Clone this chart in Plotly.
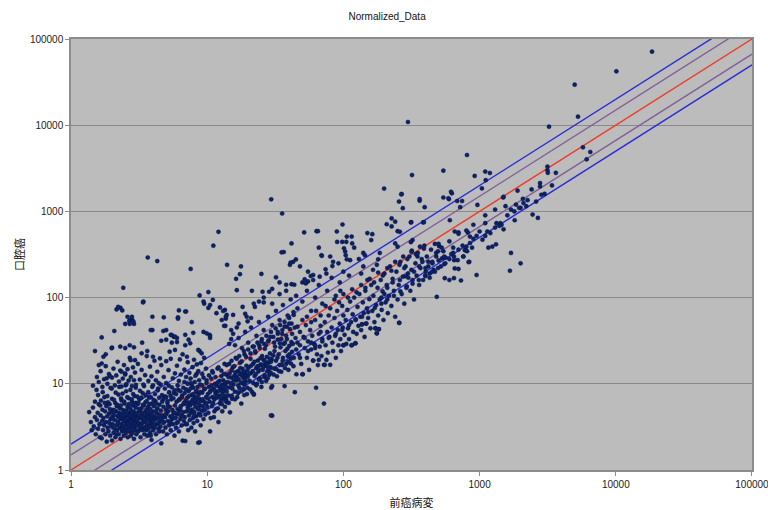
import plotly.graph_objects as go

# ---------------- data ----------------
title_text = "Normalized_Data"
x_title = "前癌病変"
y_title = "口腔癌"
tick_vals = [1, 10, 100, 1000, 10000, 100000]
tick_text = ["1", "10", "100", "1000", "10000", "100000"]

# reference lines y = k * x
line_factors = [2.0, 1.5, 1.0, 1 / 1.5, 0.5]
line_colors = ["#2b2bd6", "#80609a", "#ee3b2b", "#80609a", "#2b2bd6"]
line_x = [1, 100000]

# dense core (x 1.4 - 10)
pts_core = [
    (1.36,4.7),(1.4,3.6),(1.42,2.9),(1.45,5.3),(1.47,3.2),(1.5,4.1),(1.52,2.6),(1.54,8.5),(1.55,3.8),(1.57,4.6),
    (1.58,3.0),(1.6,5.8),(1.62,3.4),(1.63,2.4),(1.65,4.3),(1.66,6.4),(1.68,2.33),(1.69,3.7),(1.7,5.0),(1.72,2.9),
    (1.73,4.0),(1.75,3.3),(1.76,7.0),(1.78,4.8),(1.79,2.6),(1.8,3.6),(1.82,5.5),(1.83,2.13),(1.84,4.2),(1.86,3.1),
    (1.87,6.1),(1.88,2.8),(1.9,4.5),(1.91,3.5),(1.93,5.1),(1.94,2.5),(1.95,3.9),(1.97,4.7),(1.98,3.2),(2.0,2.2),
    (2.0,6.7),(2.0,4.1),
    (2.02,3.4),(2.04,5.0),(2.05,2.7),(2.06,4.4),(2.08,3.0),(2.1,3.8),(2.11,6.0),(2.12,2.4),(2.14,4.8),(2.15,3.3),
    (2.17,5.5),(2.18,2.9),(2.2,4.2),(2.21,3.6),(2.23,7.5),(2.24,2.6),(2.25,4.6),(2.27,3.1),(2.28,5.2),(2.3,3.9),
    (2.31,2.3),(2.33,4.4),(2.34,3.4),(2.35,6.4),(2.37,2.8),(2.38,4.0),(2.4,5.0),(2.41,3.2),(2.43,3.7),(2.44,2.5),
    (2.45,4.7),(2.47,5.9),(2.48,3.0),(2.5,4.2),(2.51,3.5),(2.53,2.7),(2.54,8.2),(2.55,4.9),(2.57,3.8),(2.58,3.3),
    (2.6,5.4),(2.61,2.4),(2.63,4.3),(2.64,3.0),(2.65,6.8),(2.67,3.6),(2.68,4.6),(2.7,2.8),(2.71,4.0),(2.73,5.1),
    (2.74,3.3),(2.75,2.5),(2.77,4.5),(2.78,3.8),(2.8,6.2),(2.81,3.1),(2.83,4.2),(2.84,2.7),(2.85,5.6),(2.87,3.5),
    (2.88,4.8),(2.9,2.3),(2.91,3.9),(2.93,7.2),(2.94,3.2),(2.95,4.4),(2.97,2.9),(2.98,5.3),(3.0,3.7),(3.0,4.1),
    (2.03,3.9),(2.09,4.9),(2.16,2.6),(2.22,3.5),(2.26,4.0),(2.32,5.6),(2.36,3.0),(2.42,4.3),(2.46,2.9),(2.52,3.9),
    (2.56,4.4),(2.62,3.4),(2.66,2.9),(2.72,4.3),(2.76,3.6),(2.82,4.6),(2.86,3.0),(2.92,4.0),(2.96,3.4),(2.99,6.0),
    (3.02,2.6),(3.04,4.6),(3.06,3.3),(3.08,5.8),(3.1,3.9),(3.12,2.8),(3.14,4.3),(3.16,3.5),(3.18,6.6),(3.2,3.0),
    (3.22,4.8),(3.24,2.4),(3.26,4.0),(3.28,5.2),(3.3,3.4),(3.32,4.5),(3.34,2.9),(3.36,7.8),(3.38,3.7),(3.4,4.2),
    (3.42,5.6),(3.44,3.1),(3.46,2.6),(3.48,4.7),(3.5,3.6),(3.52,6.1),(3.54,4.1),(3.56,2.9),(3.58,5.0),(3.6,3.3),
    (3.62,4.4),(3.64,2.5),(3.66,3.9),(3.68,5.4),(3.7,3.0),(3.72,4.6),(3.74,6.9),(3.76,3.5),(3.78,4.1),(3.8,2.7),
    (3.82,5.1),(3.84,3.8),(3.86,4.4),(3.88,3.2),(3.9,2.23),(3.92,5.9),(3.94,4.0),(3.96,3.5),(3.98,4.8),(4.0,2.9),
    (4.03,3.7),(4.06,5.5),(4.09,4.2),(4.12,3.1),(4.15,6.3),(4.18,3.9),(4.21,2.6),(4.24,4.6),(4.27,3.4),(4.3,5.2),
    (4.33,4.0),(4.36,8.8),(4.39,3.0),(4.42,4.4),(4.45,3.6),(4.48,5.7),
    (3.05,3.9),(3.15,5.1),(3.25,3.2),(3.35,4.1),(3.45,3.9),(3.55,3.1),(3.65,4.7),(3.75,3.2),(3.85,2.5),(3.95,4.3),
    (4.05,3.3),(4.2,4.8),(4.35,3.5),(4.45,2.8),
    (4.52,3.2),(4.56,4.9),(4.6,2.04),(4.63,3.9),(4.67,6.2),(4.7,4.3),(4.74,2.8),(4.78,5.4),(4.82,3.6),(4.86,7.1),
    (4.9,4.1),(4.94,3.1),(4.98,5.0),(5.02,4.5),(5.06,2.6),(5.1,6.0),(5.14,3.7),(5.18,4.8),(5.22,9.5),(5.26,3.3),
    (5.3,5.4),(5.35,4.2),(5.4,2.9),(5.45,6.6),(5.5,3.9),(5.55,5.0),(5.6,3.4),(5.65,4.6),(5.7,7.8),(5.75,2.5),
    (5.8,5.6),(5.85,4.0),(5.9,3.1),(5.95,6.2),(6.0,4.4),(6.05,5.1),(6.1,3.6),(6.15,8.5),(6.2,2.8),(6.25,4.9),
    (6.3,6.7),(6.35,3.9),(6.4,5.5),(6.45,4.3),(6.5,3.3),(6.55,7.3),(6.6,2.19),(6.65,4.7),(6.7,5.8),(6.75,3.7),
    (6.8,10.5),(6.85,4.1),(6.9,2.17),(6.95,6.4),
    (4.55,4.0),(4.75,3.5),(4.95,4.4),(5.15,5.5),(5.35,3.6),(5.55,4.2),(5.75,4.6),(5.95,3.5),(6.15,4.6),(6.35,5.1),
    (6.55,4.2),(6.75,6.0),(6.95,3.4),
    (7.05,4.8),(7.1,3.4),(7.15,6.9),(7.2,5.3),(7.25,2.9),(7.3,8.2),(7.35,4.3),(7.4,6.1),(7.45,3.8),(7.5,5.6),
    (7.55,11.5),(7.6,4.6),(7.65,3.1),(7.7,7.4),(7.75,5.0),(7.8,6.5),(7.85,4.0),(7.9,9.0),(7.95,3.5),(8.0,5.9),
    (8.05,4.7),(8.1,7.0),(8.15,2.8),(8.2,5.4),(8.25,6.3),(8.3,4.2),(8.35,13.0),(8.4,8.0),(8.45,3.7),(8.5,6.0),
    (8.55,5.1),(8.6,2.07),(8.65,7.5),(8.7,4.5),(8.75,6.7),(8.8,2.1),(8.85,5.6),(8.9,9.8),(8.95,3.3),(9.0,6.3),
    (9.1,4.9),(9.2,7.9),(9.3,5.5),(9.4,3.9),(9.5,8.6),(9.6,6.1),(9.7,4.4),(9.8,7.0),(9.9,11.0),(10.0,5.4),
    (7.12,5.8),(7.42,4.9),(7.72,6.0),(8.02,4.3),(8.32,6.9),(8.62,5.2),(8.92,4.3),(9.25,6.6),(9.55,5.0),(9.85,5.9),
]

# upper part of the core (y 5 - 12)
pts_core_upper = [
    (1.5,6.2),(1.58,7.4),(1.64,5.6),(1.71,8.0),(1.77,6.0),(1.85,7.2),(1.92,5.8),(1.99,8.8),(2.07,6.5),(2.13,7.9),
    (2.19,5.7),(2.26,9.2),(2.33,6.8),(2.39,7.7),(2.46,6.2),(2.52,9.6),(2.59,7.0),(2.66,5.8),(2.73,8.5),(2.79,6.6),
    (2.86,7.6),(2.92,5.9),(2.99,9.0),(3.07,7.1),(3.13,6.0),(3.21,8.3),(3.29,6.9),(3.37,5.7),(3.44,9.4),(3.52,7.4),
    (3.6,6.3),(3.69,8.0),(3.77,5.8),(3.86,7.0),(3.95,9.2),(4.04,6.5),(4.14,7.6),(4.24,5.9),(4.34,8.4),(4.44,6.9),
    (4.55,9.8),(4.66,7.4),(4.77,6.6),(4.89,8.8),(5.0,7.0),(5.12,6.3),(5.25,8.0),(5.38,7.3),(5.5,9.1),(5.64,6.8),
    (5.78,8.4),(5.92,7.6),(6.06,9.6),(6.2,6.5),(6.36,8.2),(6.52,7.0),(6.68,9.0),(6.84,7.8),(7.0,8.6),(7.18,10.0),
    (7.36,7.2),(7.54,8.8),(7.72,9.6),(7.9,7.6),(8.1,10.5),(8.3,8.3),(8.5,9.2),(8.72,11.0),(8.94,8.0),(9.16,9.6),
    (9.4,11.8),(9.64,8.8),(9.88,10.2),
]

# points just above the core (y 9 - 25)
pts_above_core = [
    (1.45,9.5),(1.55,12.0),(1.6,10.5),(1.65,14.0),(1.7,9.2),(1.75,11.3),(1.8,16.0),(1.85,10.0),(1.9,13.0),(1.95,9.0),
    (2.0,11.8),(2.05,15.0),(2.1,9.6),(2.15,12.5),(2.2,18.0),(2.25,10.6),(2.3,14.2),(2.35,9.3),(2.4,11.5),(2.45,16.5),
    (2.5,12.8),(2.55,9.9),(2.6,14.8),(2.65,10.9),(2.7,20.0),(2.75,12.0),(2.8,9.4),(2.85,15.5),(2.9,11.0),(2.95,13.5),
    (3.0,9.7),(3.1,17.0),(3.2,11.2),(3.3,14.5),(3.4,9.8),(3.5,12.6),(3.6,21.0),(3.7,10.8),(3.8,15.8),(3.9,12.2),
    (4.0,9.6),(4.1,18.5),(4.2,11.0),(4.3,13.8),(4.4,10.2),(4.6,16.5),(4.8,12.0),(5.0,10.2),(5.2,14.4),(5.4,19.5),
    (5.6,11.6),(5.8,13.2),(6.0,16.2),(6.2,10.8),(6.4,12.8),(6.6,22.0),(6.8,14.6),(7.0,12.0),(7.2,17.8),(7.4,13.4),
    (7.6,10.2),(7.8,15.6),(8.0,19.0),(8.2,12.4),(8.4,16.8),(8.6,14.0),(8.8,24.0),(9.0,17.4),(9.2,13.0),(9.5,20.0),
    (9.8,15.0),
]

# diagonal band x 10 - 45
pts_band = [
    (10.1,7.6),(10.2,4.6),(10.3,9.2),(10.4,6.2),(10.5,2.8),(10.6,8.3),(10.7,11.5),(10.8,5.5),(10.9,7.0),(11.0,13.5),
    (11.1,8.8),(11.2,4.1),(11.3,6.6),(11.4,10.0),(11.5,7.8),(11.6,5.1),(11.7,9.5),(11.8,6.9),(11.9,15.0),(12.0,8.2),
    (12.1,3.6),(12.2,7.3),(12.3,10.8),(12.4,5.9),(12.5,8.9),(12.6,6.4),(12.7,12.3),(12.8,9.7),(12.9,4.8),(13.0,7.7),
    (13.1,11.0),(13.2,6.9),(13.3,8.5),(13.4,17.0),(13.5,5.4),(13.6,9.9),(13.7,7.2),(13.8,12.8),(13.9,8.1),(14.0,6.1),
    (10.15,6.8),(10.45,8.0),(10.75,9.6),(11.05,6.0),(11.35,8.4),(11.65,7.2),(11.95,10.4),(12.25,9.3),(12.55,7.0),(12.85,8.2),
    (13.15,9.4),(13.45,10.5),(13.75,6.6),(14.05,9.0),
    (14.2,10.5),(14.4,7.3),(14.6,13.2),(14.7,4.67),(14.8,9.1),(15.0,11.8),(15.2,6.7),(15.4,15.5),(15.6,9.8),(15.8,12.4),
    (16.0,8.1),(16.2,20.0),(16.4,10.9),(16.6,7.0),(16.8,14.0),(17.0,11.3),(17.2,9.0),(17.4,17.5),(17.6,12.8),(17.8,5.9),
    (18.0,10.2),(18.2,14.9),(18.4,11.7),(18.6,8.6),(18.8,22.0),(19.0,13.3),(19.2,10.6),(19.4,16.2),(19.6,7.6),(19.8,12.0),
    (14.3,12.0),(14.9,10.2),(15.3,8.8),(15.7,11.0),(16.1,13.6),(16.5,12.2),(16.9,9.6),(17.3,13.4),(17.7,10.4),(18.1,12.6),
    (18.5,13.8),(18.9,11.2),(19.3,12.5),(19.7,14.4),(15.1,14.3),(16.3,11.6),(17.5,15.2),(18.7,9.8),
    (20.2,15.5),(20.5,10.8),(20.8,19.5),(21.1,13.4),(21.4,8.0),(21.7,17.0),(22.0,7.5),(22.3,12.3),(22.6,23.0),(22.9,15.2),
    (23.2,10.0),(23.5,18.6),(23.8,13.9),(24.1,28.0),(24.4,11.6),(24.7,16.8),(25.0,9.2),(25.3,21.0),(25.6,14.5),(25.9,19.0),
    (26.2,12.0),(26.5,25.5),(26.8,16.0),(27.1,10.8),(27.4,20.5),(27.7,14.0),(28.0,31.0),(28.3,17.7),(28.6,12.7),(28.9,22.5),
    (29.2,15.6),(29.5,9.0),(29.8,19.2),
    (20.4,13.0),(21.0,16.2),(21.6,14.0),(22.2,18.0),(22.8,13.0),(23.4,16.0),(24.0,14.8),(24.6,19.8),(25.2,16.5),(25.8,15.8),
    (26.4,18.4),(27.0,17.0),(27.6,16.6),(28.2,14.9),(28.8,19.6),(29.4,18.0),
    (30.0,4.27),(30.0,9.4),(30.5,21.5),(31.0,15.0),(31.5,27.0),(32.0,18.5),(32.5,12.2),(33.0,32.5),(33.5,22.0),(34.0,16.5),
    (34.5,26.5),(35.0,13.8),(35.5,38.0),(36.0,20.0),(36.5,29.0),(37.0,9.4),(37.5,24.0),(38.0,17.0),(38.5,33.0),(39.0,21.0),
    (39.5,14.5),(40.0,27.5),(40.5,43.0),(41.0,19.5),(41.5,30.5),(42.0,23.5),(43.0,16.0),(44.0,8.0),(44.5,34.0),(45.0,25.0),
    (31.2,24.0),(32.8,20.0),(34.2,29.5),(35.8,18.5),(37.2,30.0),(38.8,25.5),(40.2,22.0),(42.5,29.0),
    (22.0,7.6),(29.4,4.3),(63.0,9.0),(72.0,5.9),
]

# widening of the band (above and below its centre)
pts_band_extra = [
    (10.3,12.5),(10.9,14.0),(11.5,12.0),(12.1,15.5),(12.7,14.2),(13.3,13.0),(13.9,16.5),(14.5,17.0),(15.1,18.5),(15.8,16.0),
    (16.5,19.5),(17.2,21.0),(17.9,18.2),(18.6,24.0),(19.3,20.5),(20.0,25.0),(20.8,22.5),(21.6,27.0),(22.5,24.0),(23.4,30.0),
    (24.3,26.0),(25.2,33.0),(26.2,29.0),(27.2,36.0),(28.3,32.0),(29.4,40.0),(30.6,35.0),(31.8,44.0),(33.0,38.0),(34.3,48.0),
    (35.6,42.0),(37.0,52.0),(38.5,46.0),(40.0,58.0),(41.6,50.0),(43.2,63.0),
    (10.6,4.0),(11.3,4.8),(12.0,5.2),(12.8,5.8),(13.6,6.3),(14.4,6.0),(15.2,7.2),(16.0,6.6),(16.9,7.8),(17.8,8.2),
    (18.7,7.4),(19.7,9.0),(20.7,8.6),(21.8,10.2),(22.9,9.6),(24.0,11.2),(25.2,10.5),(26.5,12.5),(27.8,11.6),(29.2,13.5),
    (30.7,12.8),(32.2,14.8),(33.8,14.0),(35.5,16.5),(37.3,15.2),(39.2,18.0),(41.2,17.2),(43.3,20.0),
]

# scattered points above the band, x 1.5 - 45
pts_upper_left = [
    (2.42,130),(16.5,122),(21.3,120),(25.5,117),(8.8,106),(10.2,116),(11.0,94),(3.4,90),(9.5,85),(2.16,73),
    (2.31,76),(2.38,71),(2.6,60),(2.8,56),(2.7,55),(2.5,49.5),(2.7,49.5),(2.9,49.5),(3.96,60),(4.8,59),
    (6.1,59),(6.1,57),(6.9,69),(7.7,52),(10.2,76),(12.4,77),(13.5,72),(13.9,63),(12.8,55),(13.7,57),
    (13.6,47),(15.5,63),(19.5,60),(19.8,53),(21.0,58),(18.2,78),(22.4,78),(24.0,90),(28.5,117),(26.0,88),
    (3.96,42),(4.76,41),(5.4,37),(5.7,35),(6.0,34),(7.3,32.5),(6.9,37),(7.9,39),(9.4,40),(10.4,37),
    (10.5,34),(13.3,47),(15.0,42),(15.5,38),(2.08,41),(1.68,34.5),(2.0,26.3),(3.33,30),(5.0,32.5),(6.0,30.5),
    (5.5,30),(2.22,78),(2.8,60),(2.87,53),(2.68,53),(3.38,88),(3.85,42),(4.6,31.6),(6.2,71),(7.0,69),
    (9.4,90),(10.5,82),(11.7,66),(13.1,70),(13.7,60),(1.5,24),(1.73,20.6),(1.8,22),(1.6,16.5),(1.68,17.2),
    (1.99,25.9),(2.3,27),(2.5,26),(2.7,28),(2.9,26.5),(2.74,18.8),(2.95,18.8),(2.35,13.8),(2.5,13.2),(1.93,12.3),
    (1.83,11.6),(3.3,22.6),(3.63,24),(4.0,20.6),(4.5,19.7),(5.0,18.3),(5.3,23.6),(5.8,24.7),(6.3,19.2),(7.1,20.6),
    (6.9,28),(7.5,29.5),(8.6,24.7),(9.1,22.6),(5.0,42),(5.5,36.8),(5.8,35.2),(9.9,38.5),(10.5,36),
    (16,28),(17,34),(18,26),(19,40),(20,30),(21,45),(22,27),(23,36),(24,52),(25,31),
    (26,42),(27,28),(28,60),(29,35),(30,48),(31,30),(32,70),(33,40),(34,55),(35,33),
    (36,82),(37,46),(38,36),(39,62),(40,50),(41,95),(42,38),(43,68),(44,45),(45,105),
    (17,50),(19,65),(22,85),(26,100),(30,85),(34,110),(38,120),(15,33),(16.5,45),(14.5,29),
    (12.1,580),(11.1,400),(3.66,292),(4.3,265),(7.56,215),(14.0,240),(17.7,230),(16.3,165),(17.4,187),(25.0,188),
    (32,172),(34,150),(40.5,240),(42.8,260),(36.5,338),(29.5,1380),(35.5,945),(30,126),(35.2,335),(41,255),
    (41.6,425),(44.8,277),(41.6,143),(43.6,141),(38,141),
]

# middle of the range, x 45 - 500
pts_mid = [
    (46,30),(47,22),(48,40),(49,17),(50,12.9),(51,35),(52,26),(53,48),(54,20),(55,31),
    (56,14.5),(57,42),(58,25),(59,36),(60,18.6),(61,29),(62,55),(64,22),(65,16.5),(66,38),
    (67,27),(68,47),(69,21),(70,33),(66,18.9),(48,28),(52,34),(58,30),(62,26),(68,40),
    (72,16.6),(73,52),(74,28),(75,18.9),(76,40),(77,23),(78,62),(79,35),(80,16.6),(82,45),
    (83,30),(84,24),(86,58),(87,36),(88,20),(90,70),(91,42),(92,28),(94,50),(95,33),
    (96,24),(98,80),(99,45),(100,28),(100,62),(102,37),(104,55),(105,29),(107,72),(108,44),
    (110,33),(112,90),(114,52),(115,28),(117,64),(118,40),(120,100),(122,29.5),(123,56),(125,38),
    (127,78),(129,47),(131,110),(133,60),(135,42),(137,49),(139,88),(141,66),(143,35),(145,120),
    (147,50),(149,75),(152,58),(155,96),(158,44),(160,140),(163,70),(166,105),(169,52),(172,44),
    (174,82),(176,38.5),(178,130),(180,62),
    (182,43),(185,95),(188,160),(191,72),(194,118),(197,55),(200,190),(204,88),(208,140),(212,66),
    (216,105),(220,230),(225,80),(230,165),(235,120),(240,60),(245,200),(250,95),(255,140),(257,51),
    (262,260),(268,110),(274,175),(280,85),(286,230),(292,135),(298,190),
    (305,300),(310,120),(316,210),(322,160),(330,95),(338,250),(345,180),(352,330),(360,140),(368,220),
    (376,280),(385,160),(393,400),(402,200),(410,300),(420,230),(430,170),(440,360),(450,260),(460,210),
    (470,420),(480,300),
    (46,75),(50,90),(54,120),(58,70),(62,100),(66,140),(70,85),(76,120),(82,170),(88,105),
    (94,150),(100,200),(55,200),(80,300),(48,230),(66,380),(92,250),(120,380),(130,280),(110,180),
    (140,230),(150,160),(135,190),(95,120),
    (52,163),(55,154),(60,183),(67,175),(75,190),(69,310),(84,260),(103,342),(112,272),
    (51.5,570),(63.5,590),(65,590),(69.5,305),(89.5,585),(98.5,705),(90,443),(98,443),(105,443),(106,510),
    (115,510),(116,425),(101,373),(104,310),(106,278),(83,232),(74,213),(57.6,178),(60,160),(50,150),
    (53,146),(150,560),(163,545),(160,465),(140,330),(144,310),(185,330),(180,278),(176,240),(165,210),
    (45.2,12.9),(50.3,12.9),(73,16.6),(60,18.6),(100,28),(115,28),(123,29.5),(176,38.5),(172,44),(182,43),
    (137,49),(147,50),(257,51),
    (226,830),(240,760),(208,710),(226,670),(313,745),(385,745),(250,590),(240,425),(322,465),(318,350),
    (260,580),(315,750),(390,750),(250,390),(313,440),(287,177),
    (400,220),(450,250),(430,190),(470,200),(400,180),(420,260),(480,330),(350,300),(380,260),(330,200),
    (360,230),(280,220),(300,170),(260,160),(230,150),(210,130),(200,110),(190,100),(485,102),
    (46,46),(50,55),(54,60),(58,52),(63,70),(68,62),(74,80),(80,75),(86,95),(93,88),
    (100,110),(108,100),(116,125),(125,115),(135,140),(145,130),(156,165),(168,150),(180,195),(195,180),
    (210,220),(225,205),(240,260),(258,240),(275,300),(295,280),(316,340),(340,320),(365,390),(390,370),
    (48,20),(55,24),(62,28),(70,31),(78,34),(88,38),(98,42),(110,48),(123,55),(137,60),
    (152,68),(170,76),(190,85),(210,95),(235,105),(262,118),(290,130),(322,145),(358,160),(400,178),
    (445,198),(495,220),(550,245),
]

# high range, x 480 - 20000
pts_high = [
    (505,395),(527,380),(542,345),(640,330),(648,300),(780,355),(810,345),(1000,585),(1140,585),(1330,730),
    (1420,730),(1450,700),(1500,620),(1810,790),(2450,920),(2680,840),(1160,380),(1240,390),(1320,415),(1700,330),
    (2000,250),(1670,205),(950,183),(830,258),(657,218),(700,215),(555,168),(600,160),(648,168),(730,158),
    (605,790),(657,585),(700,570),(820,570),(495,345),(530,285),(565,290),(650,272),(690,272),(760,300),
    (790,355),(800,390),(840,260),(1100,730),(850,510),
    (500,270),(550,300),(520,230),(600,280),(620,320),(700,360),(750,400),(850,430),(900,480),(950,520),
    (560,250),(640,380),(760,300),(880,380),(1050,470),(1100,520),(1200,560),(1300,650),(1400,680),(1600,900),
    (1800,1000),(2000,1100),(2200,1150),(2600,1300),(3000,1600),(3400,2000),(900,700),(1100,900),(1300,1050),(700,550),
    (800,600),(600,450),(500,420),
    (1550,1150),(1700,1050),(1850,1200),(1950,1100),(2100,1250),(2250,1350),
    (268,1590),(256,1300),(273,1090),(363,1330),(395,1120),(542,1450),(596,1390),(626,1620),(685,1320),(744,1320),
    (720,1120),(964,1190),(1490,1450),
    (18450,71300),(10100,42200),(4990,29500),(5280,12550),(3235,9610),(298,10900),(5740,5540),(6500,4890),(6110,4020),
    (3150,3300),(3150,3000),(3170,2800),(3630,2800),(808,4510),(319,2640),(542,2970),(920,2580),(1100,2900),(1190,2790),
    (1110,2300),(1040,1850),(199,1840),(266,1580),(617,1690),(590,1420),(363,1390),(1900,1740),(2410,1800),(2780,2130),
    (2780,1950),(2840,1560),(2080,1400),(1500,1480),
]

all_pts = (pts_core + pts_core_upper + pts_above_core + pts_band + pts_band_extra
           + pts_upper_left + pts_mid + pts_high)
x_vals = [p[0] for p in all_pts]
y_vals = [p[1] for p in all_pts]

# ---------------- figure ----------------
fig = go.Figure()

for k, c in zip(line_factors, line_colors):
    fig.add_trace(go.Scatter(
        x=line_x, y=[k * v for v in line_x], mode="lines",
        line=dict(color=c, width=1.4), hoverinfo="skip", showlegend=False,
    ))

fig.add_trace(go.Scatter(
    x=x_vals, y=y_vals, mode="markers",
    marker=dict(size=4.2, color="#0c2266", line=dict(width=0.4, color="#06123f")),
    showlegend=False,
))

font_family = "Liberation Sans, Arial, Noto Sans CJK JP, sans-serif"
axis_common = dict(
    type="log", range=[0, 5.0001], tickvals=tick_vals, ticktext=tick_text,
    showline=True, mirror=True, linecolor="#8c8c8c", linewidth=1.5,
    ticks="outside", ticklen=4, tickcolor="#8c8c8c", tickwidth=1,
    tickfont=dict(size=10, color="#222222", family=font_family),
    zeroline=False, automargin=False, ticklabeloverflow="allow",
)

fig.update_layout(
    width=768, height=510,
    margin=dict(l=71, r=16, t=39, b=40, autoexpand=False),
    paper_bgcolor="white",
    plot_bgcolor="#bcbcbc",
    font=dict(family=font_family, color="#111111"),
    title=dict(text=title_text, x=0.504, xanchor="center", y=0.967, yanchor="middle",
               automargin=False,
               font=dict(size=10, color="#111111", family=font_family)),
    xaxis=dict(**axis_common, showgrid=False,
               title=dict(text=x_title, standoff=11,
                          font=dict(size=11, color="#111111", family="Noto Sans CJK JP"))),
    yaxis=dict(**axis_common, showgrid=True, gridcolor="#8a8a8a", gridwidth=1.3,
               title=dict(text=y_title, standoff=3,
                          font=dict(size=11, color="#111111", family="Noto Sans CJK JP"))),
)

fig.write_html("out.html", config={"displayModeBar": False},
               post_script="document.body.style.margin='0';")
